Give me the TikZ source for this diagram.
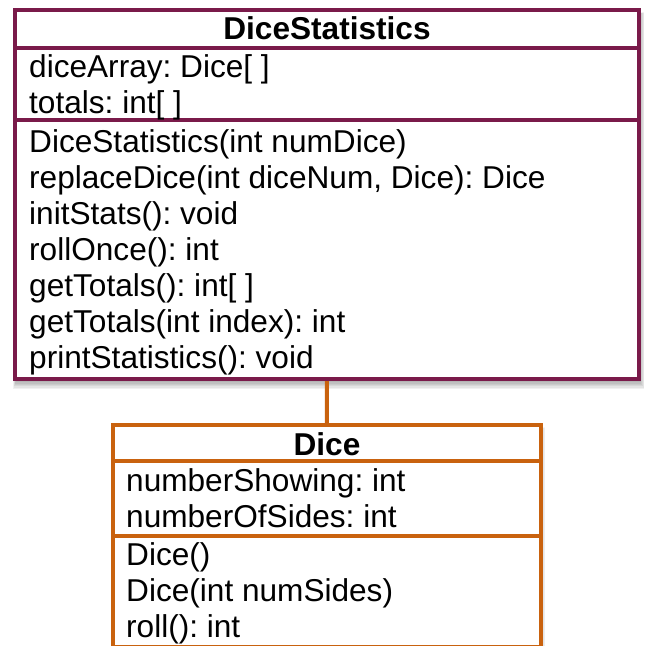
\documentclass[tikz,border=0pt]{standalone}
\usepackage{fontspec}
\setmainfont{Liberation Sans}
\frenchspacing
\definecolor{umlmaroon}{RGB}{122,26,74}
\definecolor{umlorange}{RGB}{201,98,14}
\begin{document}
\begin{tikzpicture}[x=1pt,y=-1pt,
  txt/.style={anchor=base west, inner sep=0pt, font=\fontsize{31.6}{36}\selectfont},
  ttl/.style={anchor=base, inner sep=0pt, font=\fontsize{31.6}{36}\selectfont\bfseries},
  frame/.style={line width=4pt},
  classbox/.style={frame, fill=white, inner sep=0pt, outer sep=0pt, anchor=north west}]
\useasboundingbox (0,0) rectangle (647,645);
% shadows
\foreach \s in {0,1,...,6}{
  \fill[black,opacity=0.055] (15+1-\s*0.5,10+4-\s*0.3) rectangle (639+1+\s*0.7,379+2+\s*1.3);
  \fill[black,opacity=0.035] (113+1-\s*0.5,425+4-\s*0.3) rectangle (540.5+1+\s*0.6,660);
}
% boxes
\node[classbox, draw=umlmaroon, minimum width=624pt, minimum height=369pt] (ds) at (15,10) {};
\node[classbox, draw=umlorange, minimum width=427.5pt, minimum height=222pt] (dice) at (113,425) {};
% connector
\draw[frame, umlorange] (ds.south) -- (dice.north);
\draw[frame, umlmaroon] (ds.south west) -- (ds.south east);
% dividers
\draw[frame, umlmaroon] (ds.west |- 0,47.5) -- (ds.east |- 0,47.5);
\draw[frame, umlmaroon] (ds.west |- 0,120) -- (ds.east |- 0,120);
\draw[frame, umlorange] (dice.west |- 0,461) -- (dice.east |- 0,461);
\draw[frame, umlorange] (dice.west |- 0,536) -- (dice.east |- 0,536);
% DiceStatistics texts
\node[ttl] (dsTitle) at (327,39) {DiceStatistics};
\node[txt] (a1) at (29,77) {diceArray: Dice[ ]};
\node[txt] (a2) at (29,113) {totals: int[ ]};
\node[txt] (m1) at (29,152) {DiceStatistics(int numDice)};
\node[txt] (m2) at (29,188.1) {replaceDice(int diceNum, Dice): Dice};
\node[txt] (m3) at (29,224.2) {initStats(): void};
\node[txt] (m4) at (29,260.3) {rollOnce(): int};
\node[txt] (m5) at (29,296.4) {getTotals(): int[ ]};
\node[txt] (m6) at (29,332.5) {getTotals(int index): int};
\node[txt] (m7) at (29,368.6) {printStatistics(): void};
% Dice texts
\node[ttl] (diceTitle) at (327,455) {Dice};
\node[txt] (b1) at (126,491) {numberShowing: int};
\node[txt] (b2) at (126,527) {numberOfSides: int};
\node[txt] (d1) at (126,565) {Dice()};
\node[txt] (d2) at (126,601) {Dice(int numSides)};
\node[txt] (d3) at (126,637) {roll(): int};
\end{tikzpicture}
\end{document}
